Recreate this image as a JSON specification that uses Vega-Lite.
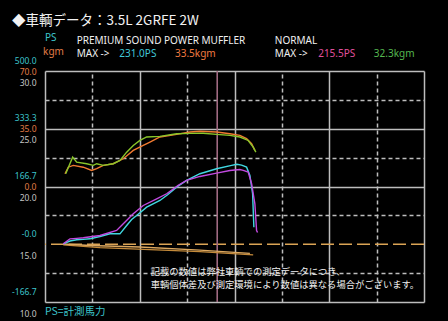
{
  "$schema": "https://vega.github.io/schema/vega-lite/v6.json",
  "width": 379,
  "height": 231,
  "autosize": "none",
  "padding": {"left": 45, "top": 71, "right": 24, "bottom": 19},
  "background": "#000000",
  "config": {"view": {"stroke": null}, "text": {"font": "Noto Sans"}},
  "title": {"text": "◆車輌データ：3.5L 2GRFE 2W", "anchor": "start", "frame": "group", "dx": -33, "offset": 6, "color": "#f2f2f2", "fontSize": 13.5, "fontWeight": "normal", "font": "Noto Sans CJK JP"},
  "datasets": {
    "ps": [
      {"rpm": 386, "val": 1.2, "series": "PREMIUM PS"},
      {"rpm": 527, "val": 9.3, "series": "PREMIUM PS"},
      {"rpm": 669, "val": 12.8, "series": "PREMIUM PS"},
      {"rpm": 802, "val": 14.2, "series": "PREMIUM PS"},
      {"rpm": 949, "val": 15.7, "series": "PREMIUM PS"},
      {"rpm": 1160, "val": 22.3, "series": "PREMIUM PS"},
      {"rpm": 1371, "val": 30.1, "series": "PREMIUM PS"},
      {"rpm": 1582, "val": 30.1, "series": "PREMIUM PS"},
      {"rpm": 1724, "val": 54.1, "series": "PREMIUM PS"},
      {"rpm": 1829, "val": 71.5, "series": "PREMIUM PS"},
      {"rpm": 1935, "val": 83.0, "series": "PREMIUM PS"},
      {"rpm": 2146, "val": 107.0, "series": "PREMIUM PS"},
      {"rpm": 2426, "val": 126.4, "series": "PREMIUM PS"},
      {"rpm": 2595, "val": 143.7, "series": "PREMIUM PS"},
      {"rpm": 2778, "val": 164.8, "series": "PREMIUM PS"},
      {"rpm": 2989, "val": 184.2, "series": "PREMIUM PS"},
      {"rpm": 3270, "val": 203.5, "series": "PREMIUM PS"},
      {"rpm": 3622, "val": 218.0, "series": "PREMIUM PS"},
      {"rpm": 3939, "val": 227.5, "series": "PREMIUM PS"},
      {"rpm": 4050, "val": 231.0, "series": "PREMIUM PS"},
      {"rpm": 4150, "val": 228.5, "series": "PREMIUM PS"},
      {"rpm": 4255, "val": 222.6, "series": "PREMIUM PS"},
      {"rpm": 4325, "val": 198.6, "series": "PREMIUM PS"},
      {"rpm": 4382, "val": 145.7, "series": "PREMIUM PS"},
      {"rpm": 4409, "val": 49.2, "series": "PREMIUM PS"},
      {"rpm": 386, "val": 1.2, "series": "NORMAL PS"},
      {"rpm": 527, "val": 15.7, "series": "NORMAL PS"},
      {"rpm": 669, "val": 17.1, "series": "NORMAL PS"},
      {"rpm": 808, "val": 18.6, "series": "NORMAL PS"},
      {"rpm": 1160, "val": 25.2, "series": "NORMAL PS"},
      {"rpm": 1512, "val": 39.7, "series": "NORMAL PS"},
      {"rpm": 1652, "val": 59.0, "series": "NORMAL PS"},
      {"rpm": 1863, "val": 87.9, "series": "NORMAL PS"},
      {"rpm": 2074, "val": 111.9, "series": "NORMAL PS"},
      {"rpm": 2357, "val": 131.3, "series": "NORMAL PS"},
      {"rpm": 2568, "val": 145.7, "series": "NORMAL PS"},
      {"rpm": 2812, "val": 169.7, "series": "NORMAL PS"},
      {"rpm": 2989, "val": 184.2, "series": "NORMAL PS"},
      {"rpm": 3270, "val": 195.7, "series": "NORMAL PS"},
      {"rpm": 3622, "val": 205.2, "series": "NORMAL PS"},
      {"rpm": 3903, "val": 213.0, "series": "NORMAL PS"},
      {"rpm": 4114, "val": 215.5, "series": "NORMAL PS"},
      {"rpm": 4184, "val": 213.0, "series": "NORMAL PS"},
      {"rpm": 4289, "val": 208.1, "series": "NORMAL PS"},
      {"rpm": 4361, "val": 174.6, "series": "NORMAL PS"},
      {"rpm": 4430, "val": 116.8, "series": "NORMAL PS"},
      {"rpm": 4466, "val": 39.7, "series": "NORMAL PS"},
      {"rpm": 4487, "val": 33.9, "series": "NORMAL PS"}
    ],
    "tq": [
      {"rpm": 422, "val": 7.7, "series": "PREMIUM kgm"},
      {"rpm": 492, "val": 11.7, "series": "PREMIUM kgm"},
      {"rpm": 597, "val": 12.8, "series": "PREMIUM kgm"},
      {"rpm": 808, "val": 11.7, "series": "PREMIUM kgm"},
      {"rpm": 985, "val": 9.7, "series": "PREMIUM kgm"},
      {"rpm": 1091, "val": 10.8, "series": "PREMIUM kgm"},
      {"rpm": 1230, "val": 12.8, "series": "PREMIUM kgm"},
      {"rpm": 1441, "val": 13.8, "series": "PREMIUM kgm"},
      {"rpm": 1652, "val": 16.8, "series": "PREMIUM kgm"},
      {"rpm": 1863, "val": 21.9, "series": "PREMIUM kgm"},
      {"rpm": 2074, "val": 24.9, "series": "PREMIUM kgm"},
      {"rpm": 2215, "val": 26.9, "series": "PREMIUM kgm"},
      {"rpm": 2426, "val": 30.0, "series": "PREMIUM kgm"},
      {"rpm": 2778, "val": 31.6, "series": "PREMIUM kgm"},
      {"rpm": 3059, "val": 33.0, "series": "PREMIUM kgm"},
      {"rpm": 3270, "val": 33.5, "series": "PREMIUM kgm"},
      {"rpm": 3622, "val": 33.0, "series": "PREMIUM kgm"},
      {"rpm": 3903, "val": 32.0, "series": "PREMIUM kgm"},
      {"rpm": 4114, "val": 31.0, "series": "PREMIUM kgm"},
      {"rpm": 4255, "val": 29.0, "series": "PREMIUM kgm"},
      {"rpm": 4361, "val": 25.9, "series": "PREMIUM kgm"},
      {"rpm": 4430, "val": 21.9, "series": "PREMIUM kgm"},
      {"rpm": 437, "val": 7.7, "series": "NORMAL kgm"},
      {"rpm": 584, "val": 17.8, "series": "NORMAL kgm"},
      {"rpm": 669, "val": 14.8, "series": "NORMAL kgm"},
      {"rpm": 880, "val": 13.8, "series": "NORMAL kgm"},
      {"rpm": 1019, "val": 12.8, "series": "NORMAL kgm"},
      {"rpm": 1091, "val": 13.8, "series": "NORMAL kgm"},
      {"rpm": 1230, "val": 12.8, "series": "NORMAL kgm"},
      {"rpm": 1441, "val": 13.8, "series": "NORMAL kgm"},
      {"rpm": 1582, "val": 15.8, "series": "NORMAL kgm"},
      {"rpm": 1724, "val": 20.8, "series": "NORMAL kgm"},
      {"rpm": 1863, "val": 24.9, "series": "NORMAL kgm"},
      {"rpm": 2004, "val": 27.9, "series": "NORMAL kgm"},
      {"rpm": 2146, "val": 30.0, "series": "NORMAL kgm"},
      {"rpm": 2426, "val": 30.4, "series": "NORMAL kgm"},
      {"rpm": 2778, "val": 32.0, "series": "NORMAL kgm"},
      {"rpm": 3059, "val": 32.2, "series": "NORMAL kgm"},
      {"rpm": 3340, "val": 32.3, "series": "NORMAL kgm"},
      {"rpm": 3622, "val": 31.6, "series": "NORMAL kgm"},
      {"rpm": 3903, "val": 31.0, "series": "NORMAL kgm"},
      {"rpm": 4114, "val": 30.0, "series": "NORMAL kgm"},
      {"rpm": 4289, "val": 27.9, "series": "NORMAL kgm"},
      {"rpm": 4394, "val": 23.9, "series": "NORMAL kgm"},
      {"rpm": 4451, "val": 20.8, "series": "NORMAL kgm"}
    ],
    "loss": [
      {"rpm": 386, "val": -1.7, "series": "A"},
      {"rpm": 1160, "val": -9.5, "series": "A"},
      {"rpm": 2215, "val": -15.3, "series": "A"},
      {"rpm": 3270, "val": -21.0, "series": "A"},
      {"rpm": 4394, "val": -30.6, "series": "A"},
      {"rpm": 386, "val": 0.7, "series": "B"},
      {"rpm": 949, "val": -3.6, "series": "B"},
      {"rpm": 2004, "val": -8.0, "series": "B"},
      {"rpm": 3270, "val": -16.7, "series": "B"},
      {"rpm": 4325, "val": -26.2, "series": "B"}
    ],
    "header": [
      {"text": "PS", "rpm": 0, "ps": 594.5, "key": "PS unit"},
      {"text": "kgm", "rpm": -40, "ps": 555.5, "key": "kgm unit"},
      {"text": "PREMIUM SOUND POWER MUFFLER", "rpm": 669, "ps": 586.7, "key": "label"},
      {"text": "MAX ->", "rpm": 669, "ps": 549.7, "key": "label"},
      {"text": "231.0PS", "rpm": 1568, "ps": 549.7, "key": "PREMIUM PS"},
      {"text": "33.5kgm", "rpm": 2743, "ps": 549.7, "key": "PREMIUM kgm"},
      {"text": "NORMAL", "rpm": 4852, "ps": 586.7, "key": "label"},
      {"text": "MAX ->", "rpm": 4852, "ps": 549.7, "key": "label"},
      {"text": "215.5PS", "rpm": 5766, "ps": 549.7, "key": "NORMAL PS"},
      {"text": "32.3kgm", "rpm": 6941, "ps": 549.7, "key": "NORMAL kgm"}
    ],
    "note": [
      {"text": "記載の数値は弊社車輌での測定データにつき、", "rpm": 2230, "ps": -80.8},
      {"text": "車輌個体差及び測定環境により数値は異なる場合がございます。", "rpm": 2230, "ps": -117.8}
    ],
    "foot": [
      {"text": "PS=計測馬力", "rpm": 0, "ps": -194.4}
    ],
    "ref": [{"level": 15}],
    "marker": [{"rpm": 3635}]
  },
  "layer": [
    {
      "data": {"name": "ref"},
      "mark": {"type": "rule", "color": "#dba455", "strokeWidth": 1.6, "strokeDash": [13, 5]},
      "encoding": {
        "y": {"field": "level", "type": "quantitative", "scale": {"domain": [10, 30], "nice": false, "zero": false},
          "axis": {"orient": "left", "values": [10, 12.5, 15, 17.5, 20, 22.5, 25, 27.5, 30], "title": null,
            "labelExpr": "datum.value % 5 === 0 ? format(datum.value, '.1f') : ''",
            "domain": false, "ticks": false, "labelPadding": 9, "labelOffset": 11, "labelColor": "#c4c4c4", "labelFontSize": 8.5, "labelFont": "Noto Sans",
            "grid": true, "gridColor": "#bdbdbd", "gridWidth": 1.5,
            "gridDash": {"condition": {"test": "datum.value % 5 === 0", "value": []}, "value": [4, 3]},
            "gridOpacity": {"condition": {"test": "datum.value === 15", "value": 0}, "value": 1}}}
      }
    },
    {
      "data": {"name": "marker"},
      "mark": {"type": "rule", "color": "#a06a82", "strokeWidth": 1.6},
      "encoding": {
        "x": {"field": "rpm", "type": "quantitative", "scale": {"domain": [0, 8000], "nice": false, "zero": false},
          "axis": {"values": [0, 1000, 2000, 3000, 4000, 5000, 6000, 7000, 8000], "labels": false, "ticks": false, "domain": false, "title": null,
            "grid": true, "gridColor": "#bdbdbd", "gridWidth": 1.5,
            "gridDash": {"condition": {"test": "datum.value % 2000 === 0", "value": []}, "value": [4, 3]}}}
      }
    },
    {
      "data": {"name": "loss"},
      "mark": {"type": "line", "strokeWidth": 1.3},
      "encoding": {
        "x": {"field": "rpm", "type": "quantitative", "axis": null},
        "y": {"field": "val", "type": "quantitative", "scale": {"domain": [-166.667, 500], "nice": false, "zero": false}, "axis": null},
        "color": {"field": "series", "type": "nominal", "scale": {"domain": ["A", "B"], "range": ["#c48a3a", "#dca860"]}, "legend": null}
      }
    },
    {
      "data": {"name": "tq"},
      "mark": {"type": "line", "strokeWidth": 1.4},
      "encoding": {
        "x": {"field": "rpm", "type": "quantitative", "axis": null},
        "y": {"field": "val", "type": "quantitative", "scale": {"domain": [-70, 70], "nice": false, "zero": false},
          "axis": {"orient": "left", "values": [70, 35, 0], "format": ".1f", "title": null, "domain": false, "ticks": false, "grid": false,
            "labelPadding": 9, "labelOffset": 0, "labelColor": "#e07c46", "labelFontSize": 8.5, "labelFont": "Noto Sans"}},
        "color": {"field": "series", "type": "nominal", "scale": {"domain": ["PREMIUM kgm", "NORMAL kgm"], "range": ["#f07a30", "#8ac62a"]}, "legend": null}
      }
    },
    {
      "data": {"name": "ps"},
      "mark": {"type": "line", "strokeWidth": 1.4},
      "encoding": {
        "x": {"field": "rpm", "type": "quantitative", "axis": null},
        "y": {"field": "val", "type": "quantitative", "scale": {"domain": [-166.667, 500], "nice": false, "zero": false},
          "axis": {"orient": "left", "values": [500, 333.333, 166.667, 0, -166.667], "title": null,
            "labelExpr": "datum.value === 0 ? '-0.0' : replace(format(datum.value, '.1f'), '\u2212', '-')",
            "domain": false, "ticks": false, "grid": false,
            "labelPadding": 9, "labelOffset": -11, "labelColor": "#3cc4cc", "labelFontSize": 8.5, "labelFont": "Noto Sans"}},
        "color": {"field": "series", "type": "nominal", "scale": {"domain": ["PREMIUM PS", "NORMAL PS"], "range": ["#40d8e2", "#c24ae0"]}, "legend": null}
      }
    },
    {
      "data": {"name": "header"},
      "mark": {"type": "text", "align": "left", "baseline": "middle", "fontSize": 10, "font": "Noto Sans"},
      "encoding": {
        "x": {"field": "rpm", "type": "quantitative", "axis": null},
        "y": {"field": "ps", "type": "quantitative", "scale": {"domain": [-166.667, 500], "nice": false, "zero": false}, "axis": null},
        "text": {"field": "text"},
        "color": {"field": "key", "type": "nominal", "legend": null,
          "scale": {"domain": ["label", "PS unit", "kgm unit", "PREMIUM PS", "PREMIUM kgm", "NORMAL PS", "NORMAL kgm"],
            "range": ["#f0f0f0", "#3cc4cc", "#e07c46", "#40c8d8", "#f07a40", "#e0509c", "#54b850"]}}
      }
    },
    {
      "data": {"name": "note"},
      "mark": {"type": "text", "align": "left", "baseline": "middle", "fontSize": 9.3, "font": "Noto Sans CJK JP", "color": "#f0f0f0"},
      "encoding": {
        "x": {"field": "rpm", "type": "quantitative", "axis": null},
        "y": {"field": "ps", "type": "quantitative", "scale": {"domain": [-166.667, 500], "nice": false, "zero": false}, "axis": null},
        "text": {"field": "text"}
      }
    },
    {
      "data": {"name": "foot"},
      "mark": {"type": "text", "align": "left", "baseline": "middle", "fontSize": 10.5, "font": "Noto Sans CJK JP", "color": "#3cc4cc"},
      "encoding": {
        "x": {"field": "rpm", "type": "quantitative", "axis": null},
        "y": {"field": "ps", "type": "quantitative", "scale": {"domain": [-166.667, 500], "nice": false, "zero": false}, "axis": null},
        "text": {"field": "text"}
      }
    }
  ],
  "resolve": {"scale": {"y": "independent", "color": "independent"}, "axis": {"y": "independent", "x": "independent"}}
}
